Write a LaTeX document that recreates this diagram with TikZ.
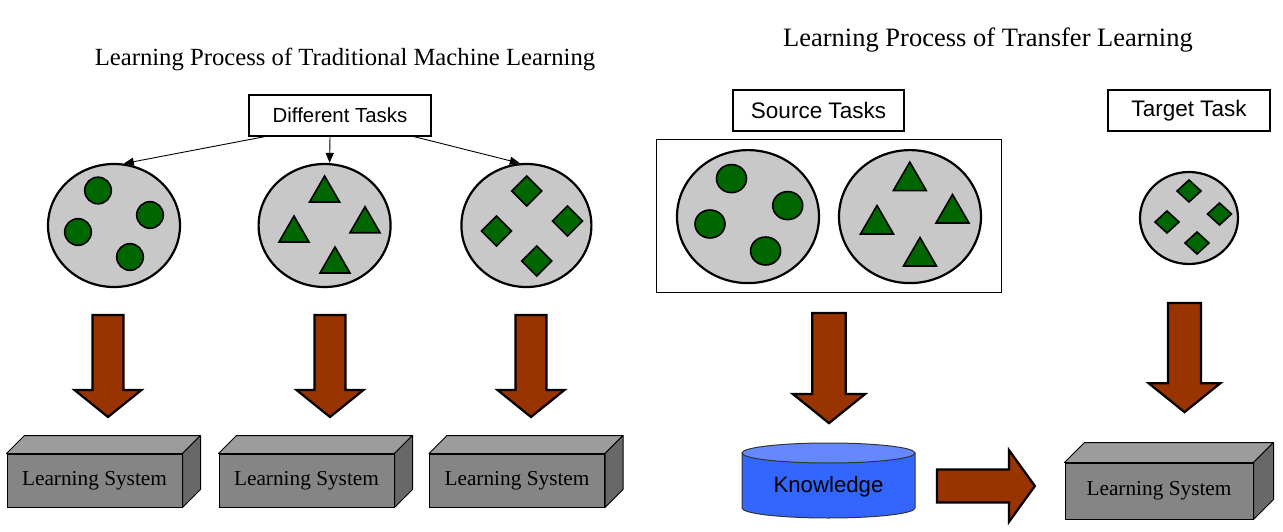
\documentclass[tikz,border=0pt]{standalone}
\usepackage{fontspec}
\setmainfont{Liberation Serif}
\setsansfont{Liberation Sans}
\usetikzlibrary{arrows.meta,positioning,calc,shapes.geometric}
\definecolor{poolgrey}{HTML}{C8C8C8}
\definecolor{dotgreen}{HTML}{006600}
\definecolor{arrbrown}{HTML}{993300}
\definecolor{lsfront}{HTML}{858585}
\definecolor{lstop}{HTML}{9C9C9C}
\definecolor{lsside}{HTML}{686868}
\definecolor{knowblue}{HTML}{3366FF}
\definecolor{knowtop}{HTML}{6688FF}

\tikzset{
  blockarr/.pic={
    \filldraw[bigarr] (0,-15.5) -- (75,-15.5) -- (75,-33.5) -- (102,0)
      -- (75,33.5) -- (75,15.5) -- (0,15.5) -- cycle;
  }
}

\begin{document}
\begin{tikzpicture}[x=1pt, y=-1pt,
  ttl/.style={inner sep=0pt, anchor=base},
  task/.style={draw, line width=1.2pt, minimum height=41pt, inner sep=0pt,
               font=\sffamily\fontsize{20.4}{24}\selectfont},
  pool/.style={ellipse, draw, line width=2.2pt, fill=poolgrey, inner sep=0pt},
  dot/.style={fill=dotgreen, draw=black, line width=1.6pt, line join=miter},
  bigarr/.style={fill=arrbrown, draw=black, line width=2.2pt, line join=miter},
  tarr/.style={-{Triangle[length=10pt,width=8pt]}, line width=0.9pt},
  lsys/.style={draw, line width=1pt, fill=lsfront, minimum width=175pt,
               minimum height=53pt, inner sep=0pt,
               font=\fontsize{21.3}{24}\selectfont},
  topface/.style={draw, line width=1pt, fill=lstop, line join=round},
  sideface/.style={draw, line width=1pt, fill=lsside, line join=round}
]
\useasboundingbox (0,0) rectangle (1283,532);

% Titles
\node[ttl, font=\fontsize{24.7}{28}\selectfont] (ttrad) at (345,66)
  {Learning Process of Traditional Machine Learning};
\node[ttl, font=\fontsize{26.5}{30}\selectfont] (ttrans) at (988,47)
  {Learning Process of Transfer Learning};

% Traditional machine learning
\node[task, minimum width=182pt] (diff) at (340,115.5) {Different Tasks};
\node[pool, minimum width=132pt, minimum height=123pt] (c1) at (114,225.5) {};
\node[pool, minimum width=132pt, minimum height=123pt] (c2) at (324.6,225.5) {};
\node[pool, minimum width=130pt, minimum height=123pt] (c3) at (526.4,225.5) {};
\draw[tarr] ($(diff.south)+(-75,0)$) -- (c1.81);
\draw[tarr] ($(diff.south)+(-10,0)$) -- ($(c2.north)+(5,0)$);
\draw[tarr] ($(diff.south)+(74,0)$) -- (c3.96);

\begin{scope}[shift={(c1)}]
  \foreach \x/\y in {-16/-35, 36/-10.5, -36/6.5, 16/31.5}
    \filldraw[dot] (\x,\y) circle (13.3);
\end{scope}
\begin{scope}[shift={(c2)}]
  \foreach \x/\y in {0/-23.5, -30.6/16.5, 40.4/7.2, 10.4/47.5}
    \filldraw[dot] (\x-15,\y) -- (\x+15,\y) -- (\x,\y-26) -- cycle;
\end{scope}
\begin{scope}[shift={(c3)}]
  \foreach \x/\y in {0.4/-34.5, 41/-4.5, -30/5.5, 10.4/35.5}
    \filldraw[dot] (\x,\y-15) -- (\x+15,\y) -- (\x,\y+15) -- (\x-15,\y) -- cycle;
\end{scope}

\pic[rotate=-90] at (108,315) {blockarr};
\pic[rotate=-90] at (330,315) {blockarr};
\pic[rotate=-90] at (531,315) {blockarr};

\node[lsys] (ls1) at (94.5,480.5) {Learning System};
\node[lsys] (ls2) at (306.5,480.5) {Learning System};
\node[lsys] (ls3) at (517,480.5) {Learning System};
\foreach \b in {ls1,ls2,ls3} {
  \filldraw[topface] (\b.north west) -- ++(18,-18)
    -- ([shift={(18,-18)}]\b.north east) -- (\b.north east) -- cycle;
  \filldraw[sideface] (\b.north east) -- ++(18,-18)
    -- ([shift={(18,-18)}]\b.south east) -- (\b.south east) -- cycle;
}

% Transfer learning
\node[task, minimum width=171pt, font=\sffamily\fontsize{22.5}{26}\selectfont]
  (src) at (818.5,110.5) {Source Tasks};
\node[task, minimum width=162pt, font=\sffamily\fontsize{22.5}{26}\selectfont]
  (tgt) at (1189,110.5) {Target Task};
\node[draw, line width=1pt, minimum width=345pt, minimum height=152pt,
      inner sep=0pt] (srcbox) at (828.5,216) {};
\node[pool, minimum width=142pt, minimum height=133pt] (s1) at (748,216.6) {};
\node[pool, minimum width=142pt, minimum height=133pt] (s2) at (910,216.6) {};
\node[pool, minimum width=98pt, minimum height=92pt] (t1) at (1189,218) {};

\begin{scope}[shift={(s1)}]
  \foreach \x/\y in {-16.5/-38, 39.7/-11, -38/7.4, 17.6/34.4}
    \filldraw[dot] (\x,\y) ellipse (15 and 14);
\end{scope}
\begin{scope}[shift={(s2)}]
  \foreach \x/\y in {-0.2/-26, -33/17.4, 42.5/6.4, 10/49.4}
    \filldraw[dot] (\x-16.5,\y) -- (\x+16.5,\y) -- (\x,\y-28.5) -- cycle;
\end{scope}
\begin{scope}[shift={(t1)}]
  \foreach \x/\y in {0/-27, 30.5/-4, -22/4, 8/25}
    \filldraw[dot] (\x,\y-11) -- (\x+12,\y) -- (\x,\y+11) -- (\x-12,\y) -- cycle;
\end{scope}

\pic[rotate=-90, scale=1.08] at (829,313) {blockarr};
\pic[rotate=-90, scale=1.07] at (1184.5,303) {blockarr};

% Knowledge store
\filldraw[fill=knowblue, draw=black!80, line width=1pt]
  (742,453) -- (742,508) arc (180:0:86.5 and 10) -- (915,453) -- cycle;
\filldraw[fill=knowtop, draw=black!80, line width=1pt]
  (828.5,453) ellipse (86.5 and 10);
\node[font=\sffamily\fontsize{22.2}{26}\selectfont] (know) at (828.5,487)
  {Knowledge};

\pic[xscale=0.96, yscale=1.07] at (937,486) {blockarr};

\node[lsys, minimum width=188pt, minimum height=56pt] (ls4) at (1159,491)
  {Learning System};
\filldraw[topface] (ls4.north west) -- ++(20,-20)
  -- ([shift={(20,-20)}]ls4.north east) -- (ls4.north east) -- cycle;
\filldraw[sideface] (ls4.north east) -- ++(20,-20)
  -- ([shift={(20,-20)}]ls4.south east) -- (ls4.south east) -- cycle;
\end{tikzpicture}
\end{document}
